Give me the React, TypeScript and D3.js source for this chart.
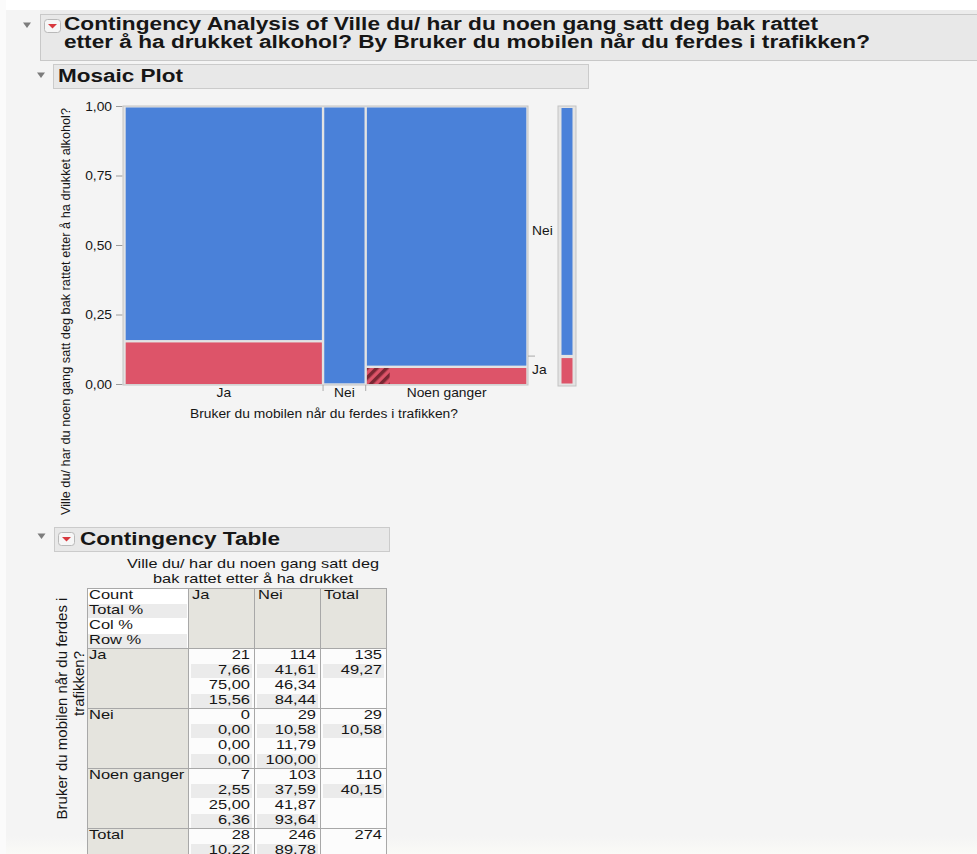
import React from 'react';
import * as d3 from 'd3';

// ---------- Data ----------
const xCategories = ['Ja', 'Nei', 'Noen ganger']; // Bruker du mobilen når du ferdes i trafikken?
const yCategories = ['Ja', 'Nei']; // Ville du/ har du ... drukket alkohol?
const countsYJa = [21, 0, 7];
const countsYNei = [114, 29, 103];
const selectedYJa = [0, 0, 1];
const yTicks = [0, 0.25, 0.5, 0.75, 1];

const tableRowLabels = ['Ja', 'Nei', 'Noen ganger', 'Total'];
const statLabels = ['Count', 'Total %', 'Col %', 'Row %'];
const tableColLabels = ['Ja', 'Nei', 'Total'];
const countRows = [[21, 114, 135], [0, 29, 29], [7, 103, 110], [28, 246, 274]];
const totalPctRows = [[7.66, 41.61, 49.27], [0.0, 10.58, 10.58], [2.55, 37.59, 40.15], [10.22, 89.78, null]];
const colPctRows = [[75.0, 46.34, null], [0.0, 11.79, null], [25.0, 41.87, null], [null, null, null]];
const rowPctRows = [[15.56, 84.44, null], [0.0, 100.0, null], [6.36, 93.64, null], [null, null, null]];

const titleLine1 = 'Contingency Analysis of Ville du/ har du noen gang satt deg bak rattet';
const titleLine2 = 'etter å ha drukket alkohol? By Bruker du mobilen når du ferdes i trafikken?';
const yAxisTitle = 'Ville du/ har du noen gang satt deg bak rattet etter å ha drukket alkohol?';
const xAxisTitle = 'Bruker du mobilen når du ferdes i trafikken?';
const tableHeadLine1 = 'Ville du/ har du noen gang satt deg';
const tableHeadLine2 = 'bak rattet etter å ha drukket';
const tableSideLine1 = 'Bruker du mobilen når du ferdes i';
const tableSideLine2 = 'trafikken?';

const FONT = '"Liberation Sans", Arial, Helvetica, sans-serif';
const TXT = '#161616';
const BLUE = '#4a81d9';
const RED = '#dd5469';

type TP = {
  x: number; y: number; children: React.ReactNode; size?: number; weight?: string;
  anchor?: 'start' | 'middle' | 'end'; sx?: number; rotate?: boolean; len?: number; fill?: string;
};
function Txt({ x, y, children, size = 12, weight = 'normal', anchor = 'start', sx = 1.18, rotate = false, len, fill = TXT }: TP) {
  let tr: string;
  if (rotate) tr = `translate(${x},${y}) rotate(-90)`;
  else if (len) tr = `translate(${x},${y})`;
  else tr = `translate(${x},${y}) scale(${sx},1)`;
  return (
    <text
      transform={tr}
      fontFamily={FONT}
      fontSize={size}
      fontWeight={weight}
      textAnchor={anchor}
      fill={fill}
      textLength={len}
      lengthAdjust={len ? 'spacingAndGlyphs' : undefined}
    >
      {children}
    </text>
  );
}

function Disclosure({ cx, cy }: { cx: number; cy: number }) {
  return <path d={`M${cx - 4},${cy - 2.5}L${cx + 4},${cy - 2.5}L${cx},${cy + 3}Z`} fill="#7c7c7c" />;
}
function RedIcon({ x, y }: { x: number; y: number }) {
  return (
    <g>
      <rect x={x + 0.5} y={y + 0.5} width={16} height={13} rx={3} fill="#f6f6f6" stroke="#b9b9b9" />
      <path d={`M${x + 4},${y + 5}L${x + 13},${y + 5}L${x + 8.5},${y + 9.5}Z`} fill="#d8383e" />
    </g>
  );
}

export default function App() {
  const W = 977;
  const H = 854;
  const loc = d3.formatLocale({ decimal: ',', thousands: ' ', grouping: [3], currency: ['', ''] });
  const f2 = loc.format('.2f');

  // ---------- Mosaic ----------
  const colTotals = countsYJa.map((v, i) => v + countsYNei[i]);
  const N = d3.sum(colTotals);
  const ends = Array.from(d3.cumsum(colTotals));
  const x = d3.scaleLinear().domain([0, N]).range([124.5, 527.5]);
  const y = d3.scaleLinear().domain([0, 1]).range([384.5, 106.5]);
  const gap = 1.2;
  const pAll = d3.sum(countsYJa) / N;

  const cols = colTotals.map((t, i) => {
    const x0 = x(ends[i] - t) + gap;
    const x1 = x(ends[i]) - gap;
    const p = countsYJa[i] / t;
    return { x0, x1, p, i, t };
  });

  // ---------- Table ----------
  const colX = [87, 188, 254, 320, 386];
  const tTop = 588;
  const gH = 60;
  const lH = 15;

  const statRowsFor = (g: number) => [countRows[g], totalPctRows[g], colPctRows[g], rowPctRows[g]];

  return (
    <svg width={W} height={H} style={{ position: 'absolute', left: 0, top: 0, background: '#f4f4f4' }}>
      <defs>
        <pattern id="hatch" width="7" height="7" patternUnits="userSpaceOnUse" patternTransform="rotate(45)">
          <rect width="7" height="7" fill={RED} />
          <rect width="3.5" height="7" fill="#7a2733" />
        </pattern>
        <linearGradient id="bottomFade" x1="0" y1="0" x2="0" y2="1">
          <stop offset="0" stopColor="#f4f4f4" />
          <stop offset="1" stopColor="#fafaf7" />
        </linearGradient>
      </defs>
      <rect x={0} y={0} width={W} height={H} fill="#f4f4f4" />
      <rect x={0} y={0} width={W} height={10} fill="#ffffff" />
      <rect x={0} y={0} width={6} height={H} fill="#fbfbfb" />
      <rect x={6} y={836} width={W} height={18} fill="url(#bottomFade)" />

      {/* ---------- Title header ---------- */}
      <rect x={40} y={10} width={W} height={4} fill="#ececec" />
      <rect x={40.5} y={14.5} width={W} height={46} fill="#e8e8e8" stroke="#c8c8c8" />
      <Disclosure cx={27} cy={25} />
      <RedIcon x={44} y={19} />
      <Txt x={64} y={29.5} size={18} weight="bold" len={754}>{titleLine1}</Txt>
      <Txt x={64} y={48} size={18} weight="bold" len={806}>{titleLine2}</Txt>

      {/* ---------- Mosaic header ---------- */}
      <rect x={53.5} y={64.5} width={535} height={24} fill="#e8e8e8" stroke="#cbcbcb" />
      <Disclosure cx={41} cy={75} />
      <Txt x={58} y={82} size={18} weight="bold" len={125}>Mosaic Plot</Txt>

      {/* ---------- Mosaic plot ---------- */}
      <Txt x={70} y={311.5} size={12} rotate anchor="middle" len={407}>{yAxisTitle}</Txt>
      {yTicks.map((t) => (
        <g key={t}>
          <line x1={116} x2={122.5} y1={y(t)} y2={y(t)} stroke="#9a9a9a" />
          <Txt x={112} y={y(t) + 4.2} size={12} anchor="end" sx={1.15}>{f2(t)}</Txt>
        </g>
      ))}
      <rect x={123} y={106} width={405} height={279} fill="#e3e3e3" stroke="#c3c3c3" />
      {cols.map((c) => (
        <g key={c.i}>
          <rect x={c.x0} y={y(1) + 1} width={c.x1 - c.x0} height={y(c.p) - gap - (y(1) + 1)} fill={BLUE} />
          {c.p > 0 && (
            <rect x={c.x0} y={y(c.p) + gap} width={c.x1 - c.x0} height={y(0) - 0.5 - (y(c.p) + gap)} fill={RED} />
          )}
          {selectedYJa[c.i] > 0 && (
            <rect
              x={c.x0}
              y={y(c.p) + gap}
              width={((c.x1 - c.x0) * selectedYJa[c.i]) / countsYJa[c.i]}
              height={y(0) - 0.5 - (y(c.p) + gap)}
              fill="url(#hatch)"
            />
          )}
        </g>
      ))}
      {/* x ticks between columns */}
      {cols.slice(1).map((c) => (
        <line key={c.i} x1={c.x0 - gap} x2={c.x0 - gap} y1={385} y2={391} stroke="#aaaaaa" />
      ))}
      {cols.map((c) => (
        <Txt key={c.i} x={(c.x0 + c.x1) / 2} y={397} size={12} anchor="middle" sx={1.15}>{xCategories[c.i]}</Txt>
      ))}
      <Txt x={190} y={418} size={12} len={268}>{xAxisTitle}</Txt>

      {/* right labels and tick */}
      <line x1={528} x2={535} y1={y(pAll)} y2={y(pAll)} stroke="#aaaaaa" />
      <Txt x={532} y={y((pAll + 1) / 2) + 4} size={12} sx={1.15}>{yCategories[1]}</Txt>
      <Txt x={532} y={y(pAll / 2) + 4} size={12} sx={1.15}>{yCategories[0]}</Txt>

      {/* overall side bar */}
      <rect x={558} y={106} width={18} height={280} fill="#e3e3e3" stroke="#c3c3c3" />
      <rect x={561.5} y={y(1) + 1.5} width={11} height={y(pAll) - gap - (y(1) + 1.5)} fill={BLUE} />
      <rect x={561.5} y={y(pAll) + gap + 0.8} width={11} height={y(0) - 1 - (y(pAll) + gap + 0.8)} fill={RED} />

      {/* ---------- Contingency header ---------- */}
      <rect x={54.5} y={527.5} width={335} height={24} fill="#e8e8e8" stroke="#cbcbcb" />
      <Disclosure cx={41.5} cy={536} />
      <RedIcon x={58} y={532} />
      <Txt x={80} y={545} size={18} weight="bold" len={200}>Contingency Table</Txt>

      {/* table side title */}
      <Txt x={67} y={708.5} size={15} rotate anchor="middle">{tableSideLine1}</Txt>
      <Txt x={84} y={683.5} size={15} rotate anchor="middle">{tableSideLine2}</Txt>

      {/* table head titles */}
      <Txt x={127} y={568} size={13} len={252}>{tableHeadLine1}</Txt>
      <Txt x={153} y={583} size={13} len={200}>{tableHeadLine2}</Txt>

      {/* header block */}
      <rect x={colX[0]} y={tTop} width={colX[1] - colX[0]} height={gH} fill="#ffffff" />
      {statLabels.map((s, k) => (
        <g key={s}>
          {k % 2 === 1 && (
            <rect x={colX[0] + 1} y={tTop + k * lH + 1} width={colX[1] - colX[0] - 2} height={lH - 1} fill="#ebebeb" />
          )}
          <Txt x={89} y={tTop + 11 + k * lH} size={13} sx={1.27}>{s}</Txt>
        </g>
      ))}
      {tableColLabels.map((c, j) => (
        <g key={c}>
          <rect x={colX[j + 1]} y={tTop} width={colX[j + 2] - colX[j + 1]} height={gH} fill="#e5e4de" />
          <Txt x={colX[j + 1] + 4} y={tTop + 11} size={13} sx={1.27}>{c}</Txt>
        </g>
      ))}

      {/* groups */}
      {tableRowLabels.map((r, g) => {
        const top = tTop + gH * (g + 1);
        const rows = statRowsFor(g);
        return (
          <g key={r}>
            <rect x={colX[0]} y={top} width={colX[1] - colX[0]} height={gH} fill="#e5e4de" />
            <Txt x={89} y={top + 11} size={13} sx={1.27}>{r}</Txt>
            <rect x={colX[1]} y={top} width={colX[4] - colX[1]} height={gH} fill="#fcfcfc" />
            {rows.map((vals, k) =>
              vals.map((v, j) => (
                <g key={`${k}-${j}`}>
                  {k % 2 === 1 && v !== null && (
                    <rect
                      x={colX[j + 1] + 3}
                      y={top + k * lH + 1}
                      width={colX[j + 2] - colX[j + 1] - 5}
                      height={lH - 1}
                      fill="#ebebeb"
                    />
                  )}
                  {v !== null && (
                    <Txt x={colX[j + 2] - 4} y={top + 11 + k * lH} size={13} anchor="end" sx={1.27}>
                      {k === 0 ? String(v) : f2(v as number)}
                    </Txt>
                  )}
                </g>
              ))
            )}
          </g>
        );
      })}

      {/* grid lines */}
      {colX.map((cx) => (
        <line key={cx} x1={cx + 0.5} x2={cx + 0.5} y1={tTop} y2={H} stroke="#a8a8a8" />
      ))}
      {[0, 1, 2, 3, 4].map((g) => (
        <line key={g} x1={colX[0]} x2={colX[4] + 1} y1={tTop + g * gH + 0.5} y2={tTop + g * gH + 0.5} stroke="#a8a8a8" />
      ))}
    </svg>
  );
}
